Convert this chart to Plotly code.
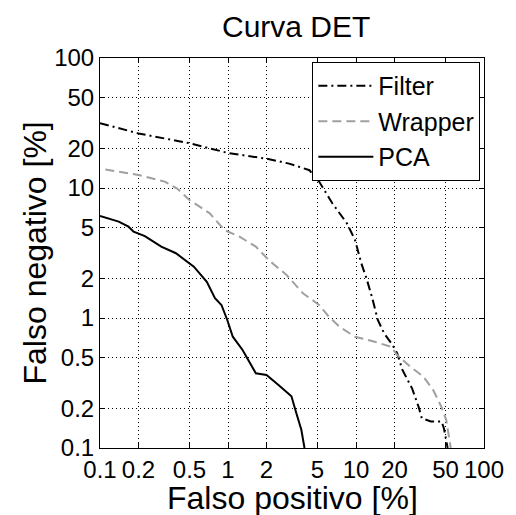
import plotly.graph_objects as go

# Data (percent)
filter_x = [0.1, 0.2, 0.5, 1, 2, 3, 4.33, 5.15, 6.53, 8.49, 9.83, 11.0, 12.07, 13.4, 14.8, 16.6, 19.3, 21.0, 23.0, 27.4, 30.8, 32.7, 38.5, 46.6, 48.6, 52]
filter_y = [31.5, 26.3, 22.1, 18.6, 16.8, 15.4, 13.7, 11.2, 7.63, 5.35, 3.98, 2.64, 2.02, 1.42, 0.965, 0.762, 0.62, 0.535, 0.40, 0.288, 0.208, 0.169, 0.16, 0.16, 0.142, 0.1]

wrapper_x = [0.11, 0.2, 0.32, 0.4, 0.5, 0.72, 0.94, 1.23, 1.65, 2.08, 2.87, 3.85, 5.15, 6.15, 7.5, 9.83, 14.0, 18.7, 21.0, 26.6, 33.6, 40.1, 46.4, 50.7, 55]
wrapper_y = [13.9, 12.6, 11.2, 9.9, 8.09, 6.38, 4.75, 4.22, 3.54, 2.79, 2.14, 1.55, 1.26, 1.02, 0.85, 0.717, 0.657, 0.601, 0.519, 0.422, 0.354, 0.279, 0.208, 0.164, 0.1]

pca_x = [0.1, 0.14, 0.167, 0.183, 0.224, 0.301, 0.392, 0.5, 0.541, 0.683, 0.791, 0.889, 0.987, 1.09, 1.30, 1.65, 2.0, 2.48, 3.13, 3.42, 3.74, 3.96]
pca_y = [6.1, 5.51, 5.04, 4.61, 4.27, 3.54, 3.15, 2.64, 2.48, 1.90, 1.42, 1.26, 0.965, 0.718, 0.567, 0.376, 0.365, 0.305, 0.25, 0.185, 0.138, 0.1]

tick_vals = [0.1, 0.2, 0.5, 1, 2, 5, 10, 20, 50, 100]
tick_text = ["0.1", "0.2", "0.5", "1", "2", "5", "10", "20", "50", "100"]

FONT = "Liberation Sans, Arial, sans-serif"

fig = go.Figure()
fig.add_trace(go.Scatter(x=filter_x, y=filter_y, mode="lines", name="Filter",
                         line=dict(color="black", width=2, dash="9px,4px,2px,4px")))
fig.add_trace(go.Scatter(x=wrapper_x, y=wrapper_y, mode="lines", name="Wrapper",
                         line=dict(color="#a0a0a0", width=2, dash="9px,5px")))
fig.add_trace(go.Scatter(x=pca_x, y=pca_y, mode="lines", name="PCA",
                         line=dict(color="black", width=2)))

axis_common = dict(
    type="log", range=[-1, 2], autorange=False,
    tickvals=tick_vals, ticktext=tick_text,
    ticks="inside", ticklen=5, tickcolor="black",
    showline=True, linecolor="black", linewidth=1, mirror="ticks",
    showgrid=True, gridcolor="black", gridwidth=1, griddash="1px,3px",
    zeroline=False, tickfont=dict(family=FONT, size=24, color="black"),
)

fig.update_xaxes(**axis_common)
fig.update_yaxes(**axis_common)

fig.update_layout(
    width=516, height=515,
    margin=dict(l=100, r=25, t=58, b=67),
    paper_bgcolor="white", plot_bgcolor="white",
    title=dict(text="Curva DET", x=0.574, xanchor="center", y=0.949, yanchor="middle",
               font=dict(family=FONT, size=30, color="black")),
    legend=dict(x=0.553, y=0.99, xanchor="left", yanchor="top", itemwidth=55,
                bgcolor="white", bordercolor="black", borderwidth=1,
                font=dict(family=FONT, size=25, color="black")),
    showlegend=True,
    annotations=[
        dict(text="Falso positivo [%]", xref="paper", yref="paper",
             x=0.5, y=-0.127, xanchor="center", yanchor="middle", showarrow=False,
             font=dict(family=FONT, size=32, color="black")),
        dict(text="Falso negativo [%]", xref="paper", yref="paper",
             x=-0.168, y=0.5, xanchor="center", yanchor="middle", showarrow=False,
             textangle=-90, font=dict(family=FONT, size=32, color="black")),
    ],
)

fig.write_html("out.html", config={"displayModeBar": False},
               post_script="document.body.style.margin='0px';")
